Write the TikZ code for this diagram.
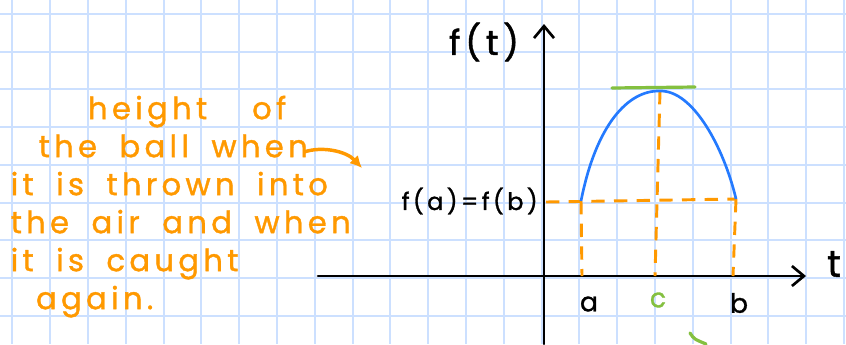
\documentclass[tikz,border=0pt]{standalone}
\usepackage{fontspec}
\setmainfont{Poppins}
\newfontfamily\handfont[LetterSpace=14, WordSpace=1.8, FakeBold=1.2]{Poppins}
\usepackage{xcolor}
\usepackage{tikz}
\usetikzlibrary{arrows.meta, positioning}

\definecolor{gridblue}{RGB}{204,224,255}
\definecolor{penorange}{RGB}{255,153,0}
\definecolor{penblue}{RGB}{36,122,255}
\definecolor{pengreen}{RGB}{132,192,64}

\begin{document}
\begin{tikzpicture}[
    x=0.75pt, y=-0.75pt,
    gridline/.style={draw=gridblue, line width=1.5pt},
    axis/.style={line width=2.2pt, line cap=round, -{Straight Barb[length=9pt, width=15pt, line width=2pt]}},
    guide/.style={penorange, line width=2.2pt, dash pattern=on 10pt off 7pt},
    note/.style={penorange, align=left, font=\handfont\fontsize{23}{28.5}\selectfont},
    lbl/.style={inner sep=0pt, font=\handfont\fontsize{20}{24}\selectfont}
]

% grid paper
\useasboundingbox (0,0) rectangle (846,344);
\fill[white] (0,0) rectangle (846,344);
\foreach \i in {0,...,22}
    \draw[gridline] (12.3+37.8*\i,0) -- (12.3+37.8*\i,344);
\foreach \j in {0,...,9}
    \draw[gridline] (0,14+37.7*\j) -- (846,14+37.7*\j);

% axes
\coordinate (xstart) at (318,276);
\coordinate (xend) at (806,276);
\coordinate (ystart) at (544,344);
\coordinate (yend) at (544,24);
\draw[axis] (xstart) -- (xend);
\draw[axis] (ystart) -- (yend);
\node[lbl, font=\handfont\fontsize{28}{34}\selectfont] (tlabel) at (834,264) {t};
\node[lbl, font=\handfont\fontsize{26}{34}\selectfont] (ftlabel) at (484,42) {f(t)};

% points of the curve
\coordinate (pa) at (581,201);
\coordinate (pc) at (660,91);
\coordinate (pb) at (736,199);
\coordinate (a0) at (582,276);
\coordinate (c0) at (655,276);
\coordinate (b0) at (733,276);
\coordinate (yfa) at (546,202);

% dashed guides
\draw[guide] (yfa) -- (pb);
\draw[guide] (pa) -- (a0);
\draw[guide] (pc) -- (c0);
\draw[guide] (pb) -- (b0);

% curve and tangent
\draw[penblue, line width=2pt] (pa) .. controls (596,125) and (628,90) .. (pc)
    .. controls (693,90) and (724,148) .. (pb);
\coordinate (tl) at (612,88);
\coordinate (tr) at (695,87);
\draw[pengreen, line width=2.4pt, line cap=round] (tl) -- (tr);

% tick labels
\node[lbl] (alabel) at (589,304) {a};
\node[lbl, text=pengreen] (clabel) at (658,300) {c};
\node[lbl] (blabel) at (739,303) {b};
\node[lbl, anchor=east, font=\handfont\fontsize{18}{24}\selectfont] (falabel) at (538,201) {f(a)=f(b)};

% stray green stroke
\coordinate (gs) at (690,333);
\coordinate (ge) at (706,344);
\draw[pengreen, line width=2.4pt, line cap=round] (gs) .. controls (694,339) .. (ge);

% note
\node[note, anchor=north west] (note) at (6,91) {%
    \hspace*{58pt}height\ \ of\\
    \hspace*{21pt}the ball when\\
    it is thrown into\\
    the air and when\\
    it is caught\\
    \hspace*{19pt}again.};
\coordinate (whenend) at (304,152);
\coordinate (notetip) at (362,168);
\draw[penorange, line width=2.6pt, -{Latex[length=9pt, width=9pt]}] (whenend)
    .. controls (322,146) and (346,151) .. (notetip);

\end{tikzpicture}
\end{document}
